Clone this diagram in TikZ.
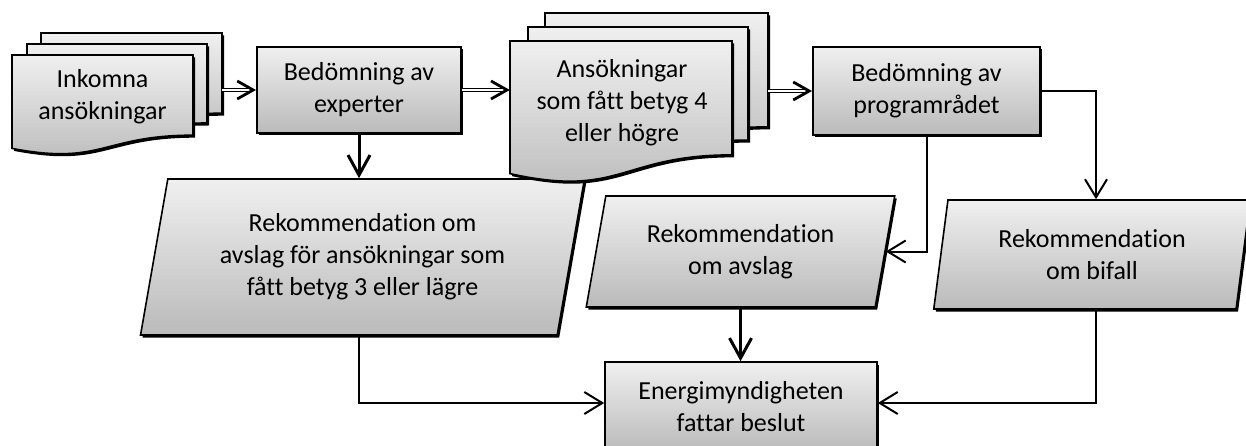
\documentclass[tikz,border=0pt]{standalone}
\usepackage{fontspec}
\setmainfont{Carlito}[Ligatures={NoCommon}]
\usetikzlibrary{arrows.meta,shapes.geometric,shadows,calc}

\tikzset{
  lbl/.style={align=center, font=\fontsize{26}{32}\selectfont, inner sep=0pt, text=black},
  fillshade/.style={draw=black, line width=1.6pt, top color=black!6, bottom color=black!27,
    drop shadow={shadow xshift=2pt, shadow yshift=-2.5pt, fill=black, opacity=1}},
  box/.style={fillshade, lbl, rectangle},
  para/.style={fillshade, lbl, trapezium, trapezium stretches=true},
  dblline/.style={double, double distance=2.5pt, line width=1.2pt},
  chev/.style={line width=2.8pt, line join=miter, line cap=butt},
  thinarr/.style={line width=2pt, -{Straight Barb[length=18pt,width=22pt,line width=2pt]}},
  thickarr/.style={line width=3pt, -{Straight Barb[length=20pt,width=22pt,line width=3pt]}},
}

% document shape: x, y(top), width, H
\newcommand\mydocshape[4]{%
  \path[fillshade] (#1,#2) -- ({#1+#3},#2) -- ({#1+#3},{#2+0.802*#4})
    .. controls ({#1+0.5*#3},{#2+0.802*#4}) and ({#1+0.5*#3},{#2+1.1075*#4}) .. (#1,{#2+0.934*#4}) -- cycle;}
% double-line arrow pointing right: from, to
\newcommand\dblarrow[2]{%
  \draw[dblline] (#1) -- ([xshift=-4pt]#2);
  \draw[chev] ([shift={(-19,-9)}]#2) -- ([xshift=-3pt]#2) -- ([shift={(-19,9)}]#2);}

\begin{document}
\begin{tikzpicture}[x=1pt,y=-1pt]
\useasboundingbox (0,0) rectangle (1246,446);

% parallelograms
\node[para, trapezium left angle=77, trapezium right angle=103, minimum width=445pt, minimum height=156pt] (rek1) at (362.5,257) {Rekommendation om\\avslag för ansökningar som\\fått betyg 3 eller lägre};
\node[para, trapezium left angle=76, trapezium right angle=104, minimum width=309pt, minimum height=111pt] (rek2) at (740.5,251.5) {Rekommendation\\om avslag};
\node[para, trapezium left angle=79.6, trapezium right angle=100.4, minimum width=317pt, minimum height=109pt] (rek3) at (1092,254.5) {Rekommendation\\om bifall};

% rectangles
\node[box, minimum width=204pt, minimum height=86pt] (exp) at (359,90) {Bedömning av\\experter};
\node[box, minimum width=227pt, minimum height=88pt] (prog) at (926.5,91) {Bedömning av\\programrådet};
\node[box, minimum width=272pt, minimum height=90pt] (en) at (741,407) {Energimyndigheten\\fattar beslut};

% multi-documents
\mydocshape{41}{33}{181}{100}
\mydocshape{27}{44}{180}{98.5}
\mydocshape{12}{55}{181}{100}
\node[lbl] (ink) at (102.5,97) {Inkomna\\ansökningar};

\mydocshape{545}{13}{223}{142}
\mydocshape{528}{27}{220}{141}
\mydocshape{510}{41}{222}{142}
\node[lbl] (ans) at (622,103) {Ansökningar\\som fått betyg 4\\eller högre};

% helper coordinates
\coordinate (inkR) at (222,90);
\coordinate (ansL) at (510,90);
\coordinate (ansR) at (768,90);
\coordinate (bx) at (1096,0);
\coordinate (hy) at (0,403);
\coordinate (ansW) at (ansL |- exp.east);

% connectors
\dblarrow{inkR |- exp.west}{exp.west}
\dblarrow{exp.east}{ansW}
\dblarrow{ansR |- prog.west}{prog.west}
\draw[thickarr] (exp.south) -- (exp.south |- rek1.north);
\draw[thinarr] (prog.south) |- (rek2.east);
\draw[thinarr] (prog.east) -| (bx |- rek3.north);
\draw[thinarr] (exp.south |- rek1.south) |- (en.west |- hy);
\draw[thickarr] (rek2.south) -- (rek2.south |- en.north);
\draw[thinarr] (bx |- rek3.south) |- (en.east |- hy);
\end{tikzpicture}
\end{document}
